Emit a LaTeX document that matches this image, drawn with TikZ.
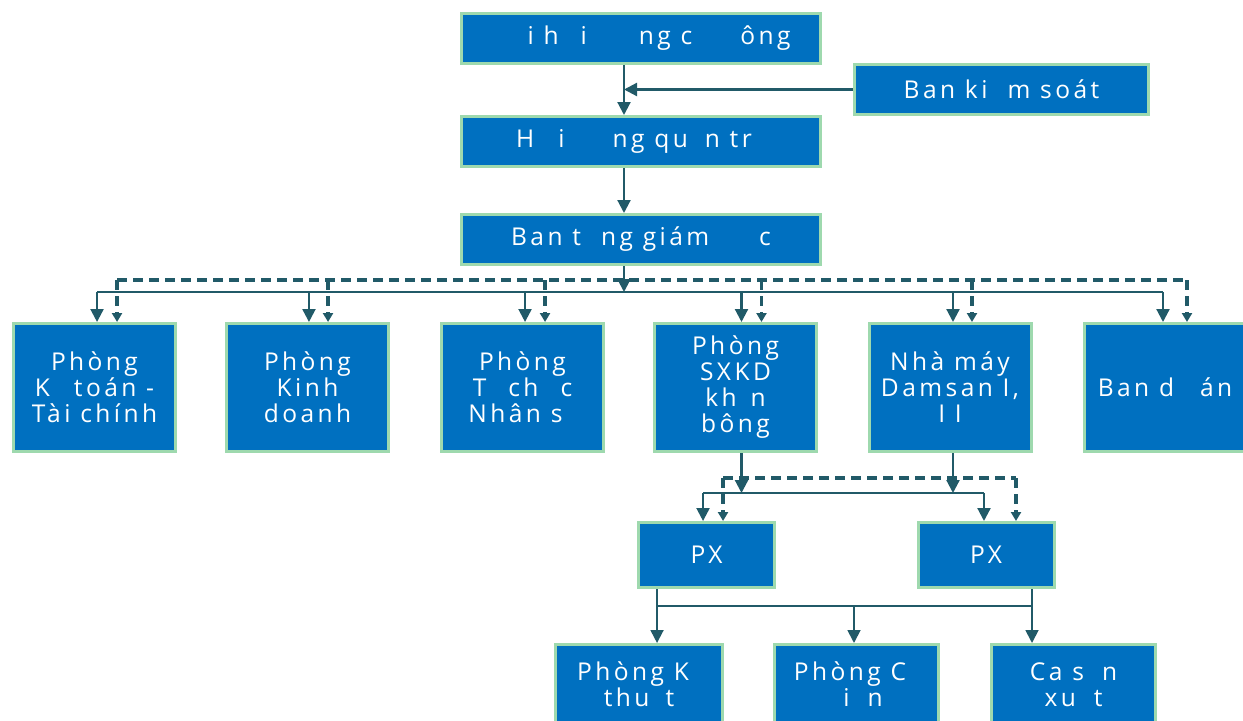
\documentclass[tikz,border=0pt]{standalone}
\usepackage{fontspec}
\usetikzlibrary{arrows.meta}
\newfontfamily\lblfont{Open Sans}[LetterSpace=14]
\newlength\px
\setlength\px{0.75pt}
\definecolor{boxblue}{HTML}{0070C0}
\definecolor{bordergreen}{HTML}{9ED9AE}
\definecolor{lc}{HTML}{215A68}
\tikzset{
  bx/.style 2 args={draw=bordergreen, line width=2.25pt, fill=boxblue, text=white,
    font=\lblfont\fontsize{18.4pt}{19.5pt}\selectfont, align=center, inner sep=0pt,
    minimum width={(#1-3)*0.75pt}, minimum height={(#2-3)*0.75pt}},
  conn/.style={draw=lc, line width=1.65pt},
  arr/.style={conn, -{Triangle[width=9.75pt,length=9.75pt]}},
  thin/.style={draw=lc, line width=1.35pt},
  tarr/.style={thin, -{Triangle[width=9.75pt,length=9.75pt]}},
  dsh/.style={draw=lc, line width=2.4pt, dash pattern=on 7.5pt off 4.5pt},
  darr/.style={dsh, -{Triangle[width=7.5pt,length=6.75pt]}},
}
\begin{document}
\begin{tikzpicture}[x=0.75pt,y=-0.75pt]
\useasboundingbox (0,0) rectangle (1243,721);
\clip (0,0) rectangle (1243,721);
% top column
\node[bx={362}{53}] (dhcd) at (641,38.5) {\hspace*{36\px}i h\hspace{22\px}i\hspace{52\px}ng c\hspace{48\px}ông};
\node[bx={297}{53}] (bks) at (1001.5,89.5) {Ban ki\hspace{20\px}m soát};
\node[bx={362}{53}] (hdqt) at (641,141.5) {H\hspace{24\px}i\hspace{48\px}ng qu\hspace{17\px}n tr\hspace*{14\px}};
\node[bx={362}{53}] (tgd) at (641,239.5) {Ban t\hspace{20\px}ng giám\hspace{50\px}c};
% second row
\node[bx={165}{131}] (kt) at (94.5,387.5) {Phòng\\K\hspace{24\px}toán -\\Tài chính};
\node[bx={165}{131}] (kd) at (307.5,387.5) {Phòng\\Kinh\\doanh};
\node[bx={165}{131}] (tc) at (522.5,387.5) {Phòng\\T\hspace{22\px}ch\hspace{22\px}c\\Nhân s\hspace*{14\px}};
\node[bx={165}{131}] (sx) at (735.5,387.5) {Phòng\\SXKD\\kh\hspace{14\px}n\\bông};
\node[bx={165}{131}] (nm) at (950,387.5) {Nhà máy\\Damsan I,\\I I};
\node[bx={165}{131}] (da) at (1165,387.5) {Ban d\hspace{26\px}án};
% third row
\node[bx={139}{68}] (px1) at (706.5,555) {PX};
\node[bx={139}{68}] (px2) at (986,555) {PX};
% fourth row
\node[bx={170}{83}] (kth) at (639,684.5) {Phòng K\hspace*{12\px}\\thu\hspace{16\px}t};
\node[bx={167}{83}] (cd) at (856,684.5) {Phòng C\hspace*{12\px}\\\hspace*{14\px}i\hspace{18\px}n};
\node[bx={167}{83}] (cs) at (1073.5,684.5) {Ca s\hspace{18\px}n\\xu\hspace{18\px}t};
% spine
\coordinate (spine) at ([xshift=-12.75pt]dhcd.south);
\coordinate (busA) at (624,292);
\coordinate (dbusA) at (624,280);
\draw[arr] (spine) -- (spine |- hdqt.north);
\draw[arr] (bks.west) -- (bks.west -| spine);
\draw[arr] (spine |- hdqt.south) -- (spine |- tgd.north);
\draw[arr] (spine |- tgd.south) -- (busA);
% solid bus row 2
\draw[thin] ([xshift=1.9pt]kt.north |- busA) -- ([xshift=-1.5pt]da.north |- busA);
\foreach \n/\s in {kt/1.9, kd/1.1, tc/1.9, sx/4.5, nm/2.25, da/-1.5}
  \draw[arr] ([xshift=\s pt]\n.north |- busA) -- ([xshift=\s pt]\n.north);
% dashed bus row 2
\draw[dsh] ([xshift=16.9pt]kt.north |- dbusA) -- ([xshift=16.5pt]da.north |- dbusA);
\foreach \n/\s in {kt/16.9, kd/15.4, tc/16.9, sx/19.5, nm/16.5, da/16.5}
  \draw[darr] ([xshift=\s pt]\n.north |- dbusA) -- ([xshift=\s pt]\n.north);
% row 3
\coordinate (busB) at (850,493);
\coordinate (dbusB) at (850,478);
\draw[arr] ([xshift=4.5pt]sx.south) -- ([xshift=4.5pt]sx.south |- busB);
\draw[arr] ([xshift=2.25pt]nm.south) -- ([xshift=2.25pt]nm.south |- busB);
\draw[thin] ([xshift=-2.6pt]px1.north |- busB) -- ([xshift=-1.5pt]px2.north |- busB);
\draw[arr] ([xshift=-2.6pt]px1.north |- busB) -- ([xshift=-2.6pt]px1.north);
\draw[arr] ([xshift=-1.5pt]px2.north |- busB) -- ([xshift=-1.5pt]px2.north);
\draw[dsh] ([xshift=12.4pt]px1.north |- dbusB) -- ([xshift=22.5pt]px2.north |- dbusB);
\draw[darr] ([xshift=12.4pt]px1.north |- dbusB) -- ([xshift=12.4pt]px1.north);
\draw[darr] ([xshift=22.5pt]px2.north |- dbusB) -- ([xshift=22.5pt]px2.north);
% row 4
\coordinate (busC) at (850,606);
\draw[thin] ([xshift=-37.1pt]px1.south) -- ([xshift=-37.1pt]px1.south |- busC)
  -- ([xshift=34.5pt]px2.south |- busC) -- ([xshift=34.5pt]px2.south);
\draw[tarr] ([xshift=-37.1pt]px1.south |- busC) -- ([xshift=-37.1pt]px1.south |- kth.north);
\draw[tarr] ([xshift=-1.5pt]cd.north |- busC) -- ([xshift=-1.5pt]cd.north);
\draw[tarr] ([xshift=34.5pt]px2.south |- busC) -- ([xshift=34.5pt]px2.south |- cs.north);
\end{tikzpicture}
\end{document}
